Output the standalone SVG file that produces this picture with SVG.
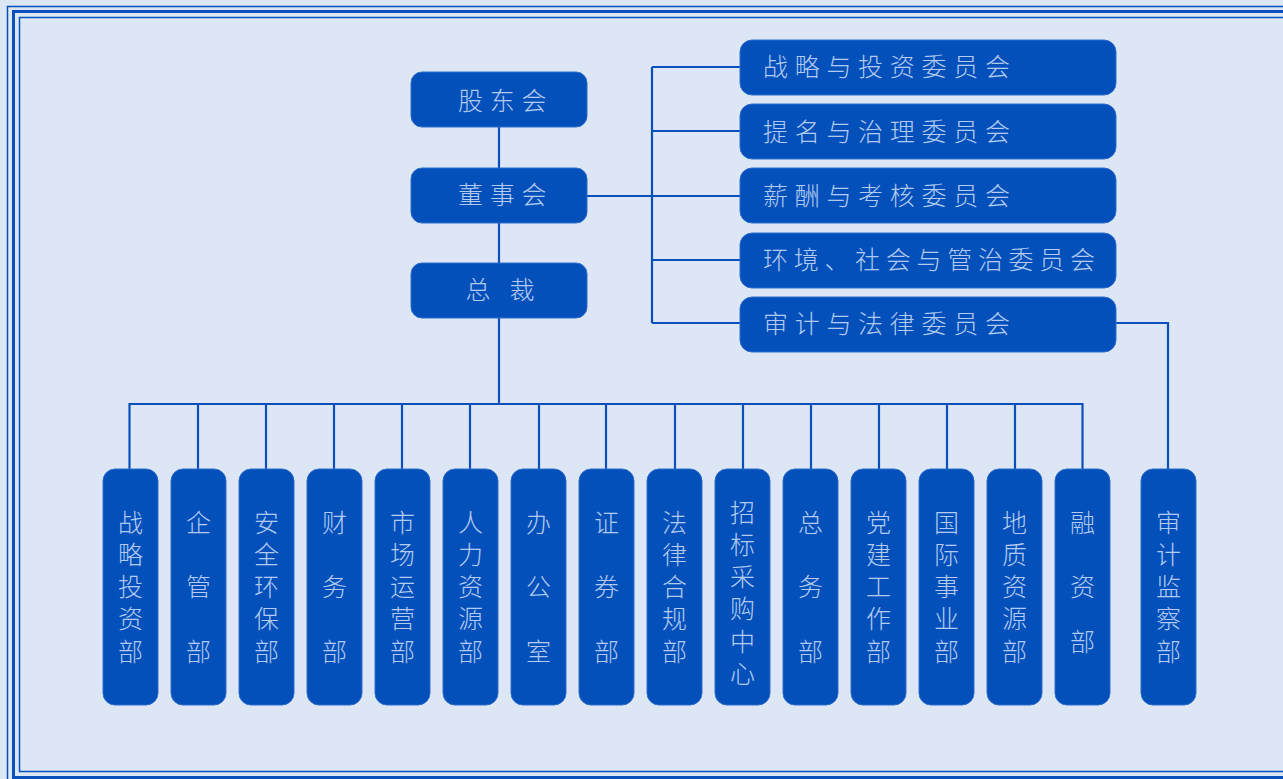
<svg xmlns="http://www.w3.org/2000/svg" width="1283" height="779" viewBox="0 0 1283 779">
<style>
.bg{fill:#dde6f4}
.frame{fill:none;stroke:#0a50bb}
.box{fill:#0350bb;stroke:#2e6ccb;stroke-width:1}
.t{fill:#b3cbf0;font-family:"Noto Sans CJK SC","Noto Sans",sans-serif;font-size:25px;font-weight:300}
.h{letter-spacing:6.7px}
.v{writing-mode:vertical-rl;letter-spacing:7.25px}
.v3{writing-mode:vertical-rl;letter-spacing:39.5px}
.ln{fill:none;stroke:#0a50bb;stroke-width:2.2}
</style>
<rect class="bg" x="0" y="0" width="1283" height="779"/>
<g id="frame">
<rect class="frame" x="7.5" y="6.5" width="1300" height="790" stroke-width="1.5"/>
<rect class="frame" x="13.5" y="11.5" width="1300" height="766" stroke-width="3"/>
<rect class="frame" x="19.5" y="17.5" width="1300" height="754" stroke-width="1.5"/>
</g>
<g id="connectors">
<path class="ln" d="M499 127V168M499 223V263M499 318V404"/>
<path class="ln" d="M587 196H652M652 67V323M652 67H740M652 131H740M652 196H740M652 260H740M652 323H740"/>
<path class="ln" d="M1116 323H1168V469"/>
<path class="ln" d="M129.5 469V404H1082.5V469M198 404V469M266 404V469M334 404V469M402 404V469M470 404V469M539 404V469M606 404V469M675 404V469M743 404V469M811 404V469M879 404V469M947 404V469M1015 404V469"/>
</g>
<g id="n-gudonghui"><rect class="box" x="411" y="72" width="176" height="55" rx="11"/><text class="t h" x="458" y="110">股东会</text></g>
<g id="n-dongshihui"><rect class="box" x="411" y="168" width="176" height="55" rx="11"/><text class="t h" x="458" y="204">董事会</text></g>
<g id="n-zongcai"><rect class="box" x="411" y="263" width="176" height="55" rx="11"/><text class="t h" x="465.5" y="299">总 裁</text></g>
<g id="c1"><rect class="box" x="740" y="40" width="376" height="55" rx="12"/><text class="t h" x="763" y="76">战略与投资委员会</text></g>
<g id="c2"><rect class="box" x="740" y="104" width="376" height="55" rx="12"/><text class="t h" x="763" y="140.5">提名与治理委员会</text></g>
<g id="c3"><rect class="box" x="740" y="168" width="376" height="55" rx="12"/><text class="t h" x="763" y="204.5">薪酬与考核委员会</text></g>
<g id="c4"><rect class="box" x="740" y="233" width="376" height="55" rx="12"/><text class="t" x="763" y="269" letter-spacing="5.7">环境、社会与管治委员会</text></g>
<g id="c5"><rect class="box" x="740" y="297" width="376" height="55" rx="12"/><text class="t h" x="763" y="333">审计与法律委员会</text></g>
<g id="d1"><rect class="box" x="103" y="469" width="55" height="236" rx="12"/><text class="t v" x="130.5" y="509.5">战略投资部</text></g>
<g id="d2"><rect class="box" x="171" y="469" width="55" height="236" rx="12"/><text class="t v3" x="198.5" y="509.5">企管部</text></g>
<g id="d3"><rect class="box" x="239" y="469" width="55" height="236" rx="12"/><text class="t v" x="266.5" y="509.5">安全环保部</text></g>
<g id="d4"><rect class="box" x="307" y="469" width="55" height="236" rx="12"/><text class="t v3" x="334.5" y="509.5">财务部</text></g>
<g id="d5"><rect class="box" x="375" y="469" width="55" height="236" rx="12"/><text class="t v" x="402.5" y="509.5">市场运营部</text></g>
<g id="d6"><rect class="box" x="443" y="469" width="55" height="236" rx="12"/><text class="t v" x="470.5" y="509.5">人力资源部</text></g>
<g id="d7"><rect class="box" x="511" y="469" width="55" height="236" rx="12"/><text class="t v3" x="538.5" y="509.5">办公室</text></g>
<g id="d8"><rect class="box" x="579" y="469" width="55" height="236" rx="12"/><text class="t v3" x="606.5" y="509.5">证券部</text></g>
<g id="d9"><rect class="box" x="647" y="469" width="55" height="236" rx="12"/><text class="t v" x="674.5" y="509.5">法律合规部</text></g>
<g id="d10"><rect class="box" x="715" y="469" width="55" height="236" rx="12"/><text class="t v" x="742.5" y="499.5">招标采购中心</text></g>
<g id="d11"><rect class="box" x="783" y="469" width="55" height="236" rx="12"/><text class="t v3" x="810.5" y="509.5">总务部</text></g>
<g id="d12"><rect class="box" x="851" y="469" width="55" height="236" rx="12"/><text class="t v" x="878.5" y="509.5">党建工作部</text></g>
<g id="d13"><rect class="box" x="919" y="469" width="55" height="236" rx="12"/><text class="t v" x="946.5" y="509.5">国际事业部</text></g>
<g id="d14"><rect class="box" x="987" y="469" width="55" height="236" rx="12"/><text class="t v" x="1014.5" y="509.5">地质资源部</text></g>
<g id="d15"><rect class="box" x="1055" y="469" width="55" height="236" rx="12"/><text class="t v3" x="1082.5" y="509.5">融资<tspan dy="-10">部</tspan></text></g>
<g id="d16"><rect class="box" x="1141" y="469" width="55" height="236" rx="12"/><text class="t v" x="1168.5" y="509.5">审计监察部</text></g>
</svg>
